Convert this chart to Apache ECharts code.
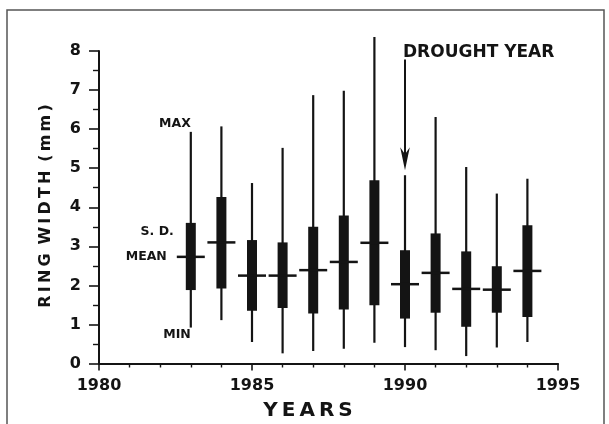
<!DOCTYPE html>
<html>
<head>
<meta charset="utf-8">
<script src="https://cdn.jsdelivr.net/npm/echarts@6/dist/echarts.min.js"></script>
<style>
  html, body { margin: 0; padding: 0; background: #fff; }
  #chart { width: 609px; height: 424px; }
</style>
</head>
<body>
<div id="chart"></div>
<script>
// Annual tree-ring width statistics (mm)
const years  = [1983, 1984, 1985, 1986, 1987, 1988, 1989, 1990, 1991, 1992, 1993, 1994];
const maxV   = [5.93, 6.07, 4.62, 5.52, 6.87, 6.98, 8.36, 4.82, 6.31, 5.03, 4.35, 4.73];
const sdTop  = [3.60, 4.26, 3.16, 3.10, 3.50, 3.79, 4.69, 2.90, 3.33, 2.87, 2.49, 3.54];
const meanV  = [2.73, 3.10, 2.25, 2.25, 2.39, 2.60, 3.09, 2.03, 2.32, 1.91, 1.89, 2.37];
const sdBot  = [1.88, 1.92, 1.35, 1.42, 1.28, 1.38, 1.49, 1.15, 1.30, 0.94, 1.30, 1.19];
const minV   = [0.92, 1.11, 0.55, 0.26, 0.32, 0.38, 0.53, 0.42, 0.34, 0.19, 0.41, 0.55];

// Key labels attached to the first year's marks
const keyLabels = ['MAX', 'S. D.', 'MEAN', 'MIN'];

// Drought-year pointer
const droughtYear = 1990;
const droughtLabel = 'DROUGHT YEAR';
const arrowFrom = 7.78;
const arrowTo = 4.95;

const xTicks = [1980, 1985, 1990, 1995];
const yTicks = [0, 1, 2, 3, 4, 5, 6, 7, 8];

const INK = '#141414';
const FONT = '"DejaVu Sans", "Liberation Sans", Arial, sans-serif';

const boxData = years.map((y, i) => [y, minV[i], sdBot[i], meanV[i], sdTop[i], maxV[i]]);

function renderBox(params, api) {
  const x = api.value(0);
  const pMin = api.coord([x, api.value(1)]);
  const pLo = api.coord([x, api.value(2)]);
  const pMean = api.coord([x, api.value(3)]);
  const pHi = api.coord([x, api.value(4)]);
  const pMax = api.coord([x, api.value(5)]);
  const cx = pMin[0];
  const barW = 10;
  const meanW = 28;
  return {
    type: 'group',
    children: [
      { type: 'line', shape: { x1: cx, y1: pMin[1], x2: cx, y2: pMax[1] },
        style: { stroke: INK, lineWidth: 2.2 } },
      { type: 'rect', shape: { x: cx - barW / 2, y: pHi[1], width: barW, height: pLo[1] - pHi[1] },
        style: { fill: INK } },
      { type: 'line', shape: { x1: cx - meanW / 2, y1: pMean[1], x2: cx + meanW / 2, y2: pMean[1] },
        style: { stroke: INK, lineWidth: 2.5 } }
    ]
  };
}

function renderKey(params, api) {
  const i = 0;
  const x = years[i];
  const pMax = api.coord([x, maxV[i]]);
  const pHi = api.coord([x, sdTop[i]]);
  const pMean = api.coord([x, meanV[i]]);
  const pMin = api.coord([x, minV[i]]);
  const cx = pMax[0];
  const f = 'bold 12.5px ' + FONT;
  return {
    type: 'group',
    children: [
      { type: 'text', x: cx, y: pMax[1] - 2,
        style: { text: keyLabels[0], font: f, fill: INK, align: 'right', verticalAlign: 'bottom' } },
      { type: 'text', x: cx - 17, y: pHi[1] + 9,
        style: { text: keyLabels[1], font: f, fill: INK, align: 'right', verticalAlign: 'middle' } },
      { type: 'text', x: cx - 24, y: pMean[1],
        style: { text: keyLabels[2], font: f, fill: INK, align: 'right', verticalAlign: 'middle' } },
      { type: 'text', x: cx, y: pMin[1] + 7,
        style: { text: keyLabels[3], font: f, fill: INK, align: 'right', verticalAlign: 'middle' } }
    ]
  };
}

function renderArrow(params, api) {
  const top = api.coord([droughtYear, arrowFrom]);
  const tip = api.coord([droughtYear, arrowTo]);
  const labelPos = api.coord([droughtYear, 7.97]);
  const cx = top[0];
  const headH = 23, headW = 4.8, notch = 16;
  return {
    type: 'group',
    children: [
      { type: 'line', shape: { x1: cx, y1: top[1], x2: cx, y2: tip[1] - notch },
        style: { stroke: INK, lineWidth: 2 } },
      { type: 'polygon', shape: { points: [
          [cx, tip[1]], [cx - headW, tip[1] - headH], [cx, tip[1] - notch], [cx + headW, tip[1] - headH]
        ] }, style: { fill: INK } },
      { type: 'text', x: cx - 2, y: labelPos[1],
        style: { text: droughtLabel, font: 'bold 17px ' + FONT, fill: INK, align: 'left', verticalAlign: 'middle' } }
    ]
  };
}

const chart = echarts.init(document.getElementById('chart'), null, { renderer: 'canvas' });

const axisLabelStyle = { color: INK, fontFamily: FONT, fontWeight: 'bold', fontSize: 16 };

chart.setOption({
  animation: false,
  backgroundColor: '#fff',
  grid: { left: 99, right: 51, top: 51, bottom: 60.5, containLabel: false },
  xAxis: {
    type: 'value', min: xTicks[0], max: xTicks[xTicks.length - 1], interval: 5,
    offset: 4.5,
    axisLine: { show: true, lineStyle: { color: INK, width: 2 } },
    axisTick: { show: true, length: 7, lineStyle: { color: INK, width: 1.6 } },
    minorTick: { show: true, splitNumber: 5, length: 4, lineStyle: { color: INK, width: 1.4 } },
    splitLine: { show: false },
    axisLabel: Object.assign({ margin: 10, formatter: v => String(v) }, axisLabelStyle)
  },
  yAxis: {
    type: 'value', min: yTicks[0], max: yTicks[yTicks.length - 1], interval: 1,
    axisLine: { show: true, lineStyle: { color: INK, width: 2 } },
    axisTick: { show: true, length: 10, lineStyle: { color: INK, width: 1.6 } },
    minorTick: { show: true, splitNumber: 2, length: 6, lineStyle: { color: INK, width: 1.4 } },
    splitLine: { show: false },
    axisLabel: Object.assign({ margin: 18 }, axisLabelStyle)
  },
  graphic: [
    { type: 'rect', shape: { x: 7, y: 10, width: 597, height: 430 },
      style: { fill: 'none', stroke: '#555', lineWidth: 1.5 }, silent: true },
    { type: 'text', x: 46, y: 206, rotation: Math.PI / 2,
      style: { text: 'R\u2009I\u2009N\u2009G\u2009 W\u2009I\u2009D\u2009T\u2009H\u2009 (\u2009m\u2009m\u2009)',
        font: 'bold 16px ' + FONT, fill: INK, align: 'center', verticalAlign: 'middle' } },
    { type: 'text', x: 308, y: 411,
      style: { text: 'Y\u2009E\u2009A\u2009R\u2009S', font: 'bold 20px ' + FONT, fill: INK,
        align: 'center', verticalAlign: 'middle' } }
  ],
  series: [
    { type: 'custom', name: 'ring width', renderItem: renderBox, data: boxData,
      encode: { x: 0, y: [1, 2, 3, 4, 5] }, clip: false, z: 3 },
    { type: 'custom', name: 'key', renderItem: renderKey, data: [[years[0], meanV[0]]],
      encode: { x: 0, y: 1 }, clip: false, z: 4 },
    { type: 'custom', name: 'drought', renderItem: renderArrow, data: [[droughtYear, arrowFrom]],
      encode: { x: 0, y: 1 }, clip: false, z: 4 }
  ]
});
</script>
</body>
</html>
